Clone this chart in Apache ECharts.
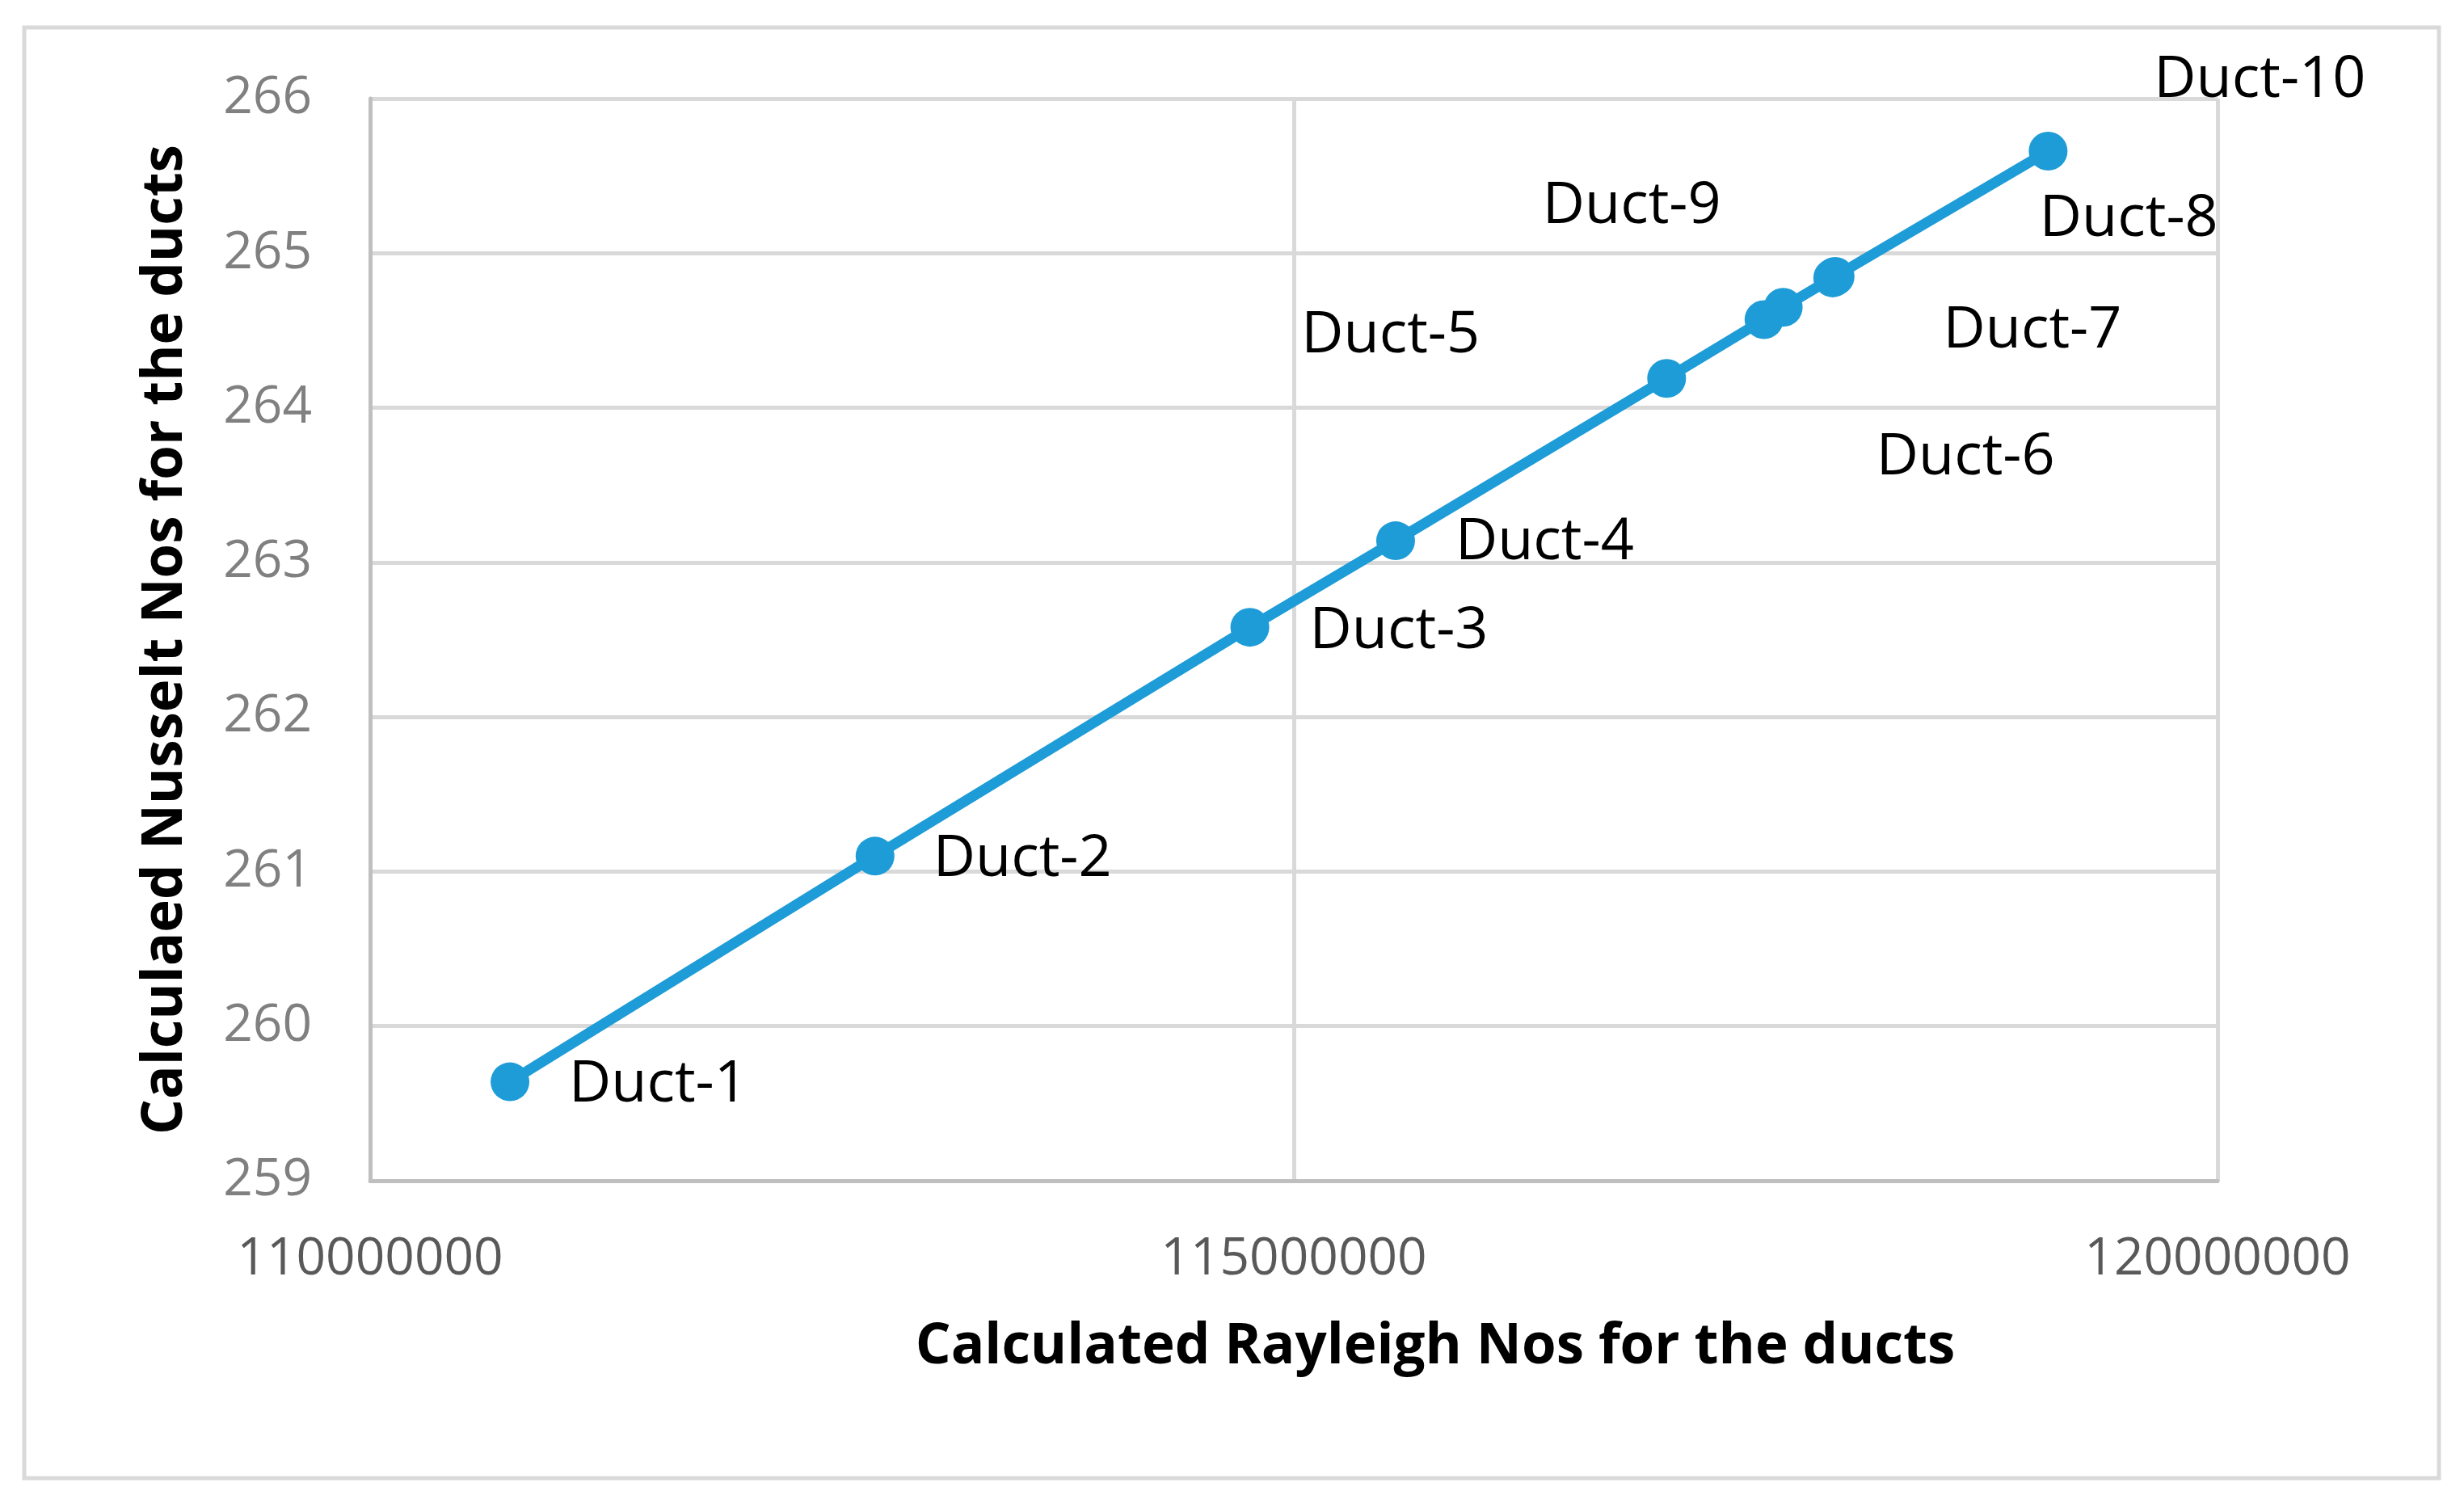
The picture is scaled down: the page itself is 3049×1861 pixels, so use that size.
<!DOCTYPE html>
<html>
<head>
<meta charset="utf-8">
<script src="https://cdn.jsdelivr.net/npm/echarts@6/dist/echarts.min.js"></script>
<style>
  html, body { margin: 0; padding: 0; background: #fff; }
  #chart { width: 3049px; height: 1861px; }
</style>
</head>
<body>
<div id="chart"></div>
<script>
// duct data
const ductNames = ['Duct-1', 'Duct-2', 'Duct-3', 'Duct-4', 'Duct-5', 'Duct-6', 'Duct-7', 'Duct-8', 'Duct-9', 'Duct-10'];
const rayleighNos = [110757000, 112733000, 114762000, 115551000, 117018000, 117545000, 117649000, 117917000, 117930000, 119083000];
const nusseltNos = [259.64, 261.10, 262.58, 263.14, 264.19, 264.57, 264.65, 264.84, 264.85, 265.66];
const xTicks = [110000000, 115000000, 120000000];
const yTicks = [259, 260, 261, 262, 263, 264, 265, 266];

// where each label sits relative to its marker (px)
const labelOffsets = [[73, 4], [72, 4], [74, 5], [74, 2], [-452, -53], [139, 171], [198, 29], [256, -72], [-362, -86], [131, -88]];

const font = '"Open Sans", "Noto Sans", sans-serif';
const blue = '#1E9CD7';

var myChart = echarts.init(document.getElementById('chart'), null, { renderer: 'canvas' });

const seriesData = ductNames.map((name, i) => ({
  name: name,
  value: [rayleighNos[i], nusseltNos[i]],
  label: {
    show: true,
    formatter: name,
    position: 'inside',
    align: 'left',
    verticalAlign: 'middle',
    offset: labelOffsets[i],
    color: '#000',
    fontFamily: font,
    fontSize: 72,
  },
}));

const option = {
  backgroundColor: '#fff',
  animation: false,
  graphic: [
    {
      type: 'rect',
      shape: { x: 30, y: 34, width: 2988, height: 1795 },
      style: { fill: 'none', stroke: '#d9d9d9', lineWidth: 5 },
      silent: true,
    },
  ],
  grid: {
    left: 458,
    right: 305,
    top: 122,
    bottom: 400,
  },
  xAxis: {
    type: 'value',
    min: xTicks[0],
    max: xTicks[xTicks.length - 1],
    interval: xTicks[1] - xTicks[0],
    name: 'Calculated Rayleigh Nos for the ducts',
    nameLocation: 'middle',
    nameGap: 172,
    nameTextStyle: {
      fontFamily: font,
      fontSize: 69,
      fontWeight: 'bold',
      color: '#000',
      padding: [0, 0, 0, 350],
    },
    axisLine: { show: true, lineStyle: { color: '#bfbfbf', width: 5 } },
    axisTick: { show: false },
    axisLabel: {
      formatter: v => String(v),
      fontFamily: font,
      fontSize: 64,
      color: '#595959',
      margin: 66,
    },
    splitLine: { show: true, lineStyle: { color: '#d9d9d9', width: 5 } },
  },
  yAxis: {
    type: 'value',
    min: yTicks[0],
    max: yTicks[yTicks.length - 1],
    interval: 1,
    name: 'Calculaed Nusselt Nos for the ducts',
    nameLocation: 'middle',
    nameGap: 218,
    nameTextStyle: {
      fontFamily: font,
      fontSize: 69,
      fontWeight: 'bold',
      color: '#000',
    },
    axisLine: { show: true, lineStyle: { color: '#bfbfbf', width: 5 } },
    axisTick: { show: false },
    axisLabel: {
      fontFamily: font,
      fontSize: 64,
      color: '#808080',
      margin: 72,
    },
    splitLine: { show: true, lineStyle: { color: '#d9d9d9', width: 5 } },
  },
  series: [
    {
      name: 'Nusselt',
      type: 'line',
      data: seriesData,
      symbol: 'circle',
      symbolSize: 48,
      itemStyle: { color: blue },
      lineStyle: { color: blue, width: 13 },
      emphasis: { disabled: true },
    },
  ],
};
myChart.setOption(option);
</script>
</body>
</html>
